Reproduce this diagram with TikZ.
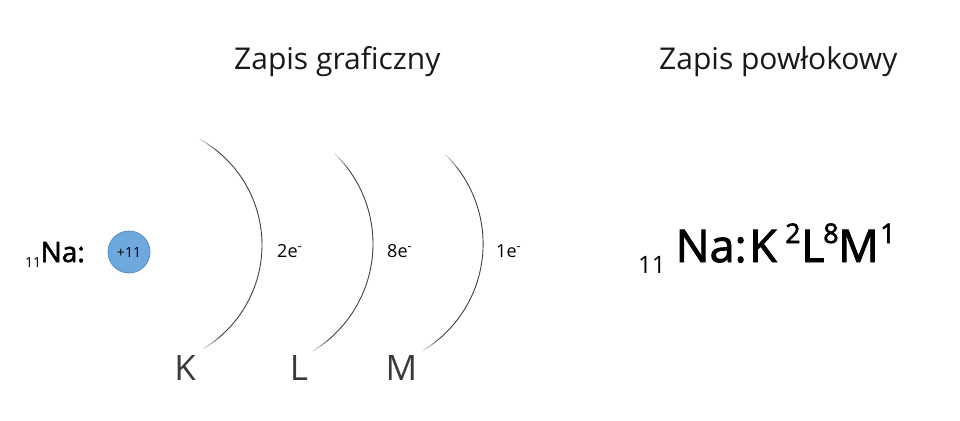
\documentclass[tikz,border=0pt]{standalone}
\usepackage{fontspec}
\setmainfont{Open Sans}
\newfontfamily\semib[FakeBold=2]{Open Sans}
\definecolor{nucfill}{HTML}{6FA8DC}
\definecolor{nucdraw}{HTML}{5B8CC8}
\definecolor{shellc}{HTML}{404040}
\definecolor{lblc}{HTML}{3A3A3A}
\tikzset{
  titletext/.style={anchor=base west, inner sep=0pt, font=\fontsize{30}{36}\selectfont, text=black!90},
  shelllbl/.style={anchor=base, inner sep=0pt, font=\fontsize{35}{42}\selectfont, text=lblc},
  elec/.style={anchor=base west, inner sep=0pt, font=\fontsize{18}{22}\selectfont},
  nucleus/.style={circle, minimum size=42pt, inner sep=0pt, fill=nucfill, draw=nucdraw, line width=0.8pt, font=\fontsize{14}{16}\selectfont},
  shellline/.style={line width=0.9pt, line cap=round},
  bigsym/.style={anchor=base west, inner sep=0pt, font=\fontsize{45}{52}\semib},
  supnum/.style={anchor=base west, inner sep=0pt, font=\fontsize{27}{30}\semib},
  subnum/.style={anchor=base west, inner sep=0pt, font=\fontsize{24}{28}\selectfont},
}
\newcommand\myshell[5]{%
  \pgfmathsetmacro\mA{#5+10}\pgfmathsetmacro\mB{#4-10}
  \draw[shellline, draw=shellc] plot[domain=\mA:\mB, samples=60, smooth] ({#1+#3*cos(\x)},{#2-#3*sin(\x)});
  \foreach \i in {0,...,4}{%
    \pgfmathsetmacro\tA{#4-10+2*\i}\pgfmathsetmacro\tB{#4-8+2*\i}
    \pgfmathsetmacro\bA{#5+8-2*\i}\pgfmathsetmacro\bB{#5+10-2*\i}
    \pgfmathtruncatemacro\cc{70-13*\i}
    \draw[shellline, draw=black!\cc] plot[domain=\tA:\tB, samples=4, smooth] ({#1+#3*cos(\x)},{#2-#3*sin(\x)});
    \draw[shellline, draw=black!\cc] plot[domain=\bA:\bB, samples=4, smooth] ({#1+#3*cos(\x)},{#2-#3*sin(\x)});
  }%
}
\begin{document}
\begin{tikzpicture}[x=1pt, y=-1pt]
\useasboundingbox (0,0) rectangle (960,420);
% titles
\node[titletext] (t1) at (234,70) {Zapis graficzny};
\node[titletext] (t2) at (659,70) {Zapis powłokowy};
% left symbol
\node[anchor=base west, inner sep=0pt, font=\fontsize{14}{16}\selectfont] (nasub) at (25,267) {11};
\node[anchor=base west, inner sep=0pt, font=\fontsize{28}{34}\semib] (na) at (40.5,262) {Na:};
\node[nucleus] (nuc) at (129,252) {+11};
% shells
\myshell{141}{245}{121}{61}{-58.6}
\myshell{247.6}{243.9}{125.4}{45.8}{-58.6}
\myshell{358.5}{243.9}{124.6}{45.8}{-58.6}
% electrons
\node[elec] (e1) at (277,257) {2e\textsuperscript{-}};
\node[elec] (e2) at (387,257) {8e\textsuperscript{-}};
\node[elec] (e3) at (496,257) {1e\textsuperscript{-}};
% shell labels
\node[shelllbl] (k) at (185,380) {K};
\node[shelllbl] (l) at (299,380) {L};
\node[shelllbl] (m) at (401.5,380) {M};
% formula
\node[subnum] (fsub) at (638,273) {11};
\node[bigsym] (fna) at (675.5,262) {Na:};
\node[bigsym] (fk) at (749,262) {K};
\node[supnum] (fk2) at (785,243) {2};
\node[bigsym] (fl) at (801,262) {L};
\node[supnum] (fl8) at (823,243) {8};
\node[bigsym] (fm) at (838,262) {M};
\node[supnum] (fm1) at (880,243) {1};
\end{tikzpicture}
\end{document}
